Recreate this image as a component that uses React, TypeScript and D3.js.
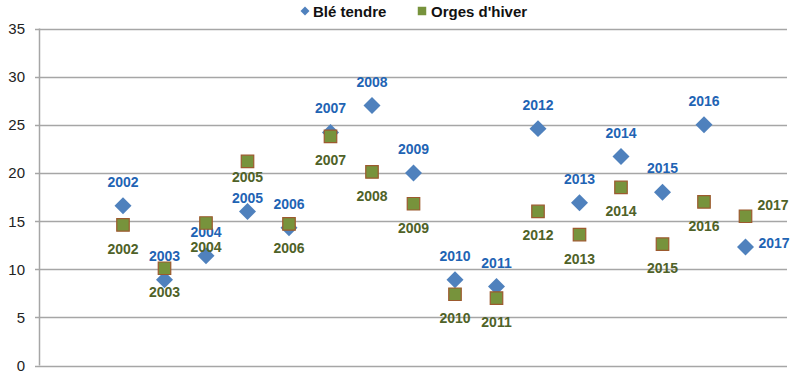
import React from "react";
import * as d3 from "d3";

const years = [2002, 2003, 2004, 2005, 2006, 2007, 2008, 2009, 2010, 2011, 2012, 2013, 2014, 2015, 2016, 2017];
const bleTendre = [16.6, 8.9, 11.4, 16.0, 14.3, 24.2, 27.0, 20.0, 8.9, 8.2, 24.6, 16.9, 21.7, 18.0, 25.0, 12.3];
const orgesHiver = [14.6, 10.1, 14.8, 21.2, 14.7, 23.8, 20.1, 16.8, 7.4, 7.0, 16.0, 13.6, 18.5, 12.6, 17.0, 15.5];
const bleLabelPos = ["above", "above", "above", "aboveNear", "above", "above", "above", "above", "above", "above", "above", "above", "above", "above", "above", "right"];
const orgesLabelPos = ["below", "below", "below", "belowNear", "below", "below", "below", "below", "below", "below", "below", "below", "below", "below", "below", "rightAbove"];
const yTicks = [0, 5, 10, 15, 20, 25, 30, 35];
const seriesNames = ["Blé tendre", "Orges d'hiver"];

const W = 800;
const H = 377;
const FONT = "'Liberation Sans', Arial, sans-serif";
const BLUE = "#4F81BD";
const BLUE_TXT = "#1F64B4";
const GREEN = "#77933C";
const GREEN_BORDER = "#9C5A2E";
const GREEN_TXT = "#4F6228";

export default function App() {
  const x = d3.scaleLinear().domain([2000, 2018]).range([40, 787]);
  const y = d3.scaleLinear().domain([0, 35]).range([365.5, 28.5]);
  const diamond = d3.symbol().type(d3.symbolSquare).size(144)() as string;
  const square = d3.symbol().type(d3.symbolSquare).size(156)() as string;
  const legDiamond = d3.symbol().type(d3.symbolSquare).size(40)() as string;
  const legSquare = d3.symbol().type(d3.symbolSquare).size(72)() as string;

  const labelAttrs = (pos: string, cx: number, cy: number) => {
    if (pos === "above") return { x: cx, y: cy - 19, textAnchor: "middle" };
    if (pos === "aboveNear") return { x: cx, y: cy - 8, textAnchor: "middle" };
    if (pos === "below") return { x: cx, y: cy + 29, textAnchor: "middle" };
    if (pos === "belowNear") return { x: cx, y: cy + 21, textAnchor: "middle" };
    if (pos === "right") return { x: cx + 13, y: cy + 1, textAnchor: "start" };
    return { x: cx + 12, y: cy - 6, textAnchor: "start" };
  };

  return (
    <svg width={W} height={H} style={{ position: "absolute", left: 0, top: 0, background: "#fff" }} fontFamily={FONT}>
      {yTicks.map((t) => (
        <g key={t}>
          <line x1={35} x2={787} y1={Math.round(y(t)) + 0.5} y2={Math.round(y(t)) + 0.5} stroke="#A6A6A6" strokeWidth={1.5} />
          <text x={25} y={y(t) + 5.5} textAnchor="end" fontSize={15} fill="#222">{t}</text>
        </g>
      ))}
      <line x1={39.5} x2={39.5} y1={y(35)} y2={y(0)} stroke="#A6A6A6" strokeWidth={1.5} />

      {years.map((yr, i) => (
        <path key={"b" + yr} d={diamond} transform={`translate(${x(yr)},${y(bleTendre[i])}) rotate(45)`} fill={BLUE} />
      ))}
      {years.map((yr, i) => {
        const a = labelAttrs(bleLabelPos[i], x(yr), y(bleTendre[i]));
        return (
          <text key={"bl" + yr} x={a.x} y={a.y} textAnchor={a.textAnchor as any} fontSize={14} fontWeight="bold" fill={BLUE_TXT}>{yr}</text>
        );
      })}
      {years.map((yr, i) => (
        <path key={"o" + yr} d={square} transform={`translate(${x(yr)},${y(orgesHiver[i])})`} fill={GREEN} stroke={GREEN_BORDER} strokeWidth={1.2} />
      ))}
      {years.map((yr, i) => {
        const a = labelAttrs(orgesLabelPos[i], x(yr), y(orgesHiver[i]));
        return (
          <text key={"ol" + yr} x={a.x} y={a.y} textAnchor={a.textAnchor as any} fontSize={14} fontWeight="bold" fill={GREEN_TXT}>{yr}</text>
        );
      })}

      <g>
        <path d={legDiamond} transform="translate(305,11) rotate(45)" fill={BLUE} />
        <text x={313} y={16.5} fontSize={15} fontWeight="bold" fill="#111">{seriesNames[0]}</text>
        <path d={legSquare} transform="translate(422,11)" fill={GREEN} />
        <text x={431} y={16.5} fontSize={15} fontWeight="bold" fill="#111">{seriesNames[1]}</text>
      </g>
    </svg>
  );
}
